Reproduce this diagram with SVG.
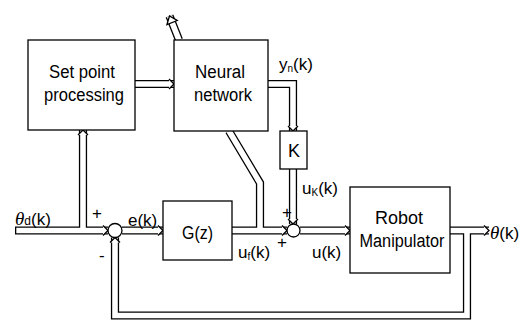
<svg xmlns="http://www.w3.org/2000/svg" width="524" height="320" viewBox="0 0 524 320">
<style>
.box{fill:#fff;stroke:#000;stroke-width:1.3}
.sj{fill:#fff;stroke:#000;stroke-width:1.3}
.o{fill:none;stroke:#000;stroke-width:8.2;stroke-linejoin:miter}
.i{fill:none;stroke:#fff;stroke-width:5.6;stroke-linejoin:miter}
text{font-family:"Liberation Sans",Arial,sans-serif;fill:#000}
.t{font-size:18px;text-anchor:middle}
.l{font-size:17px}
.s{font-size:10px}
.th{font-family:"Liberation Serif","Times New Roman",serif;font-style:italic}
</style>
<defs>
<marker id="ah" markerUnits="userSpaceOnUse" viewBox="-7 -7 8 14" refX="0" refY="0" markerWidth="8" markerHeight="14" orient="auto" overflow="visible">
<path d="M-5,-5 L0,0 L-5,5" fill="#fff" stroke="#000" stroke-width="1.3"/>
</marker>
<marker id="ah2" markerUnits="userSpaceOnUse" viewBox="-10 -8 11 16" refX="0" refY="0" markerWidth="11" markerHeight="16" orient="auto" overflow="visible">
<path d="M-7,-5.5 L0,0 L-7,5.5 Z" fill="#fff" stroke="#000" stroke-width="1.3"/>
</marker>
</defs>
<rect width="524" height="320" fill="#fff"/>
<g id="connectors">
<path class="o" d="M15,230.5 H108"/>
<path class="o" d="M83,230.5 V130"/>
<path class="o" d="M135,84 H174"/>
<path class="o" d="M179,40 L169.5,16"/>
<path class="o" d="M268,84 H293 V131"/>
<path class="o" d="M229,131 L260,183 V230.5"/>
<path class="o" d="M122,230.5 H163"/>
<path class="o" d="M232,230.5 H287"/>
<path class="o" d="M293,169 V224"/>
<path class="o" d="M300,230.5 H350"/>
<path class="o" d="M450,230.5 H489"/>
<path class="o" d="M467,230.5 V315.5 H115 V237.5"/>
<path class="i" d="M16.3,230.5 H108" marker-end="url(#ah)"/>
<path class="i" d="M83,230.5 V130" marker-end="url(#ah)"/>
<path class="i" d="M135,84 H174" marker-end="url(#ah)"/>
<path class="i" d="M179,40 L169.5,16" marker-end="url(#ah2)"/>
<path class="i" d="M268,84 H293 V131" marker-end="url(#ah)"/>
<path class="i" d="M229,131 L260,183 V230.5"/>
<path class="i" d="M122,230.5 H163" marker-end="url(#ah)"/>
<path class="i" d="M232,230.5 H287" marker-end="url(#ah)"/>
<path class="i" d="M293,169 V224" marker-end="url(#ah)"/>
<path class="i" d="M300,230.5 H350" marker-end="url(#ah)"/>
<path class="i" d="M450,230.5 H489" marker-end="url(#ah)"/>
<path class="i" d="M467,230.5 V315.5 H115 V237.5" marker-end="url(#ah)"/>
</g>
<g id="setpoint">
<rect class="box" x="28" y="40" width="107" height="90"/>
<text class="t" x="82" y="78" textLength="66" lengthAdjust="spacingAndGlyphs">Set point</text>
<text class="t" x="84" y="101" textLength="80" lengthAdjust="spacingAndGlyphs">processing</text>
</g>
<g id="neural">
<rect class="box" x="174" y="40" width="94" height="91"/>
<text class="t" x="220" y="78" textLength="50" lengthAdjust="spacingAndGlyphs">Neural</text>
<text class="t" x="223" y="101" textLength="58" lengthAdjust="spacingAndGlyphs">network</text>
</g>
<g id="k">
<rect class="box" x="280" y="131" width="27" height="38"/>
<text class="t" x="294" y="157">K</text>
</g>
<g id="gz">
<rect class="box" x="163" y="201" width="69" height="59"/>
<text class="t" x="197.5" y="239" textLength="31" lengthAdjust="spacingAndGlyphs">G(z)</text>
</g>
<g id="robot">
<rect class="box" x="350" y="187" width="100" height="86"/>
<text class="t" x="399" y="224">Robot</text>
<text class="t" x="402" y="247" textLength="85" lengthAdjust="spacingAndGlyphs">Manipulator</text>
</g>
<g id="sum1">
<circle class="sj" cx="115" cy="230.5" r="7"/>
</g>
<g id="sum2">
<circle class="sj" cx="293.5" cy="230.5" r="6.5"/>
</g>
<g id="labels">
<text class="l" x="15" y="225" font-size="18"><tspan class="th" font-size="19">θ</tspan><tspan font-size="12">d</tspan><tspan>(k)</tspan></text>
<text class="l" x="92" y="219" font-size="15">+</text>
<text class="l" x="99" y="261">-</text>
<text class="l" x="128" y="226" font-size="18">e(k)</text>
<text class="l" x="279" y="70" font-size="16">y<tspan class="s" dy="2">n</tspan><tspan dy="-2">(k)</tspan></text>
<text class="l" x="302" y="194" font-size="16">u<tspan class="s" dy="2">K</tspan><tspan dy="-2">(k)</tspan></text>
<text class="l" x="238" y="258">u<tspan class="s" dy="2">f</tspan><tspan dy="-2">(k)</tspan></text>
<text class="l" x="282" y="218">+</text>
<text class="l" x="277" y="248">+</text>
<text class="l" x="312" y="258" font-size="18">u(k)</text>
<text class="l" x="490" y="239" font-size="18"><tspan class="th" font-size="19">θ</tspan>(k)</text>
</g>
</svg>
